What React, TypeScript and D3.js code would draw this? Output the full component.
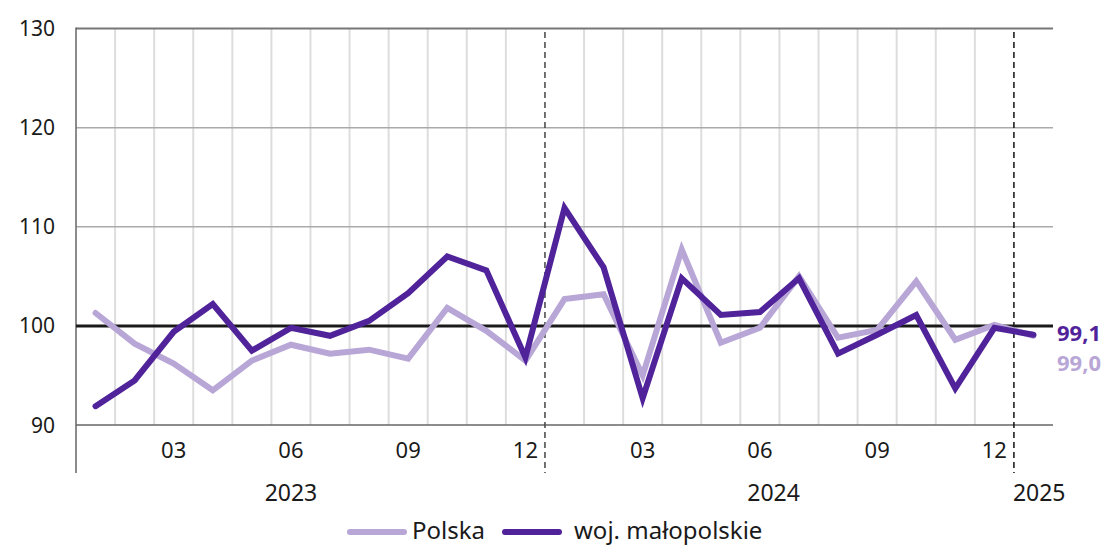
import React from 'react';
import * as d3 from 'd3';

// months 2023-01 .. 2025-01
const months = [
  '2023-01', '2023-02', '2023-03', '2023-04', '2023-05', '2023-06', '2023-07', '2023-08', '2023-09', '2023-10', '2023-11', '2023-12',
  '2024-01', '2024-02', '2024-03', '2024-04', '2024-05', '2024-06', '2024-07', '2024-08', '2024-09', '2024-10', '2024-11', '2024-12',
  '2025-01',
];
const polska = [101.3, 98.2, 96.2, 93.5, 96.5, 98.1, 97.2, 97.6, 96.7, 101.8, 99.5, 96.5,
  102.7, 103.2, 95.0, 107.7, 98.3, 99.8, 105.0, 98.8, 99.6, 104.5, 98.6, 100.1, 99.0];
const malopolskie = [91.9, 94.5, 99.4, 102.2, 97.5, 99.8, 99.0, 100.5, 103.3, 107.0, 105.6, 96.8,
  111.9, 105.9, 92.7, 104.8, 101.1, 101.4, 104.8, 97.2, 99.1, 101.1, 93.7, 99.8, 99.1];
const yTicks = [90, 100, 110, 120, 130];
const monthTicks = ['03', '06', '09', '12'];
const yearLabels = [
  { year: '2023', at: 5.5, anchor: 'middle' },
  { year: '2024', at: 17.85, anchor: 'middle' },
  { year: '2025', at: 24, anchor: 'start' },
];
const endLabels = ['99,1', '99,0'];

const LIGHT = '#b8a6d7';
const DARK = '#50239a';
const FONT = '"Noto Sans", "Open Sans", sans-serif';

export default function App() {
  const width = 1103;
  const height = 546;
  const left = 76;
  const right = 1053;
  const top = 28.5;
  const bottom = 425;

  const x = d3.scaleBand<string>().domain(months).range([left, right]).padding(0);
  const bw = x.bandwidth();
  const cx = (m: string) => (x(m) as number) + bw / 2;
  const y = d3.scaleLinear().domain([90, 130]).range([bottom, top]);

  const line = d3.line<number>()
    .x((_, i) => cx(months[i]))
    .y(d => y(d));

  const boundaries = d3.range(1, months.length).filter(i => i !== 12 && i !== 24);
  const dashed = [12, 24];

  return (
    <svg width={width} height={height} style={{ position: 'absolute', left: 0, top: 0 }} fontFamily={FONT}>
      {/* vertical grid */}
      {boundaries.map(i => (
        <line key={'v' + i} x1={left + i * bw} x2={left + i * bw} y1={top} y2={bottom}
          stroke="#dddddd" strokeWidth={2} />
      ))}
      {/* horizontal grid */}
      {yTicks.filter(t => t !== 90 && t !== 130 && t !== 100).map(t => (
        <line key={'h' + t} x1={left} x2={right} y1={y(t)} y2={y(t)} stroke="#aaaaaa" strokeWidth={1.5} />
      ))}
      <line x1={left} x2={right} y1={y(130)} y2={y(130)} stroke="#777777" strokeWidth={2} />
      <line x1={left} x2={right} y1={y(90)} y2={y(90)} stroke="#666666" strokeWidth={1.5} />
      <line x1={left} x2={left} y1={top - 1} y2={473} stroke="#666666" strokeWidth={1.5} />

      {/* year separators */}
      {dashed.map(i => (
        <line key={'d' + i} x1={left + i * bw} x2={left + i * bw} y1={32} y2={473}
          stroke={i === 12 ? '#444444' : '#111111'} strokeWidth={1.5} strokeDasharray="6,4" />
      ))}

      {/* y tick labels */}
      {yTicks.map(t => (
        <text key={'yl' + t} x={55} y={y(t)} dy="0.36em" textAnchor="end" fontSize={21} fill="#1a1a1a">{t}</text>
      ))}

      {/* month labels */}
      {months.filter(m => monthTicks.includes(m.slice(5))).map(m => (
        <text key={'m' + m} x={cx(m)} y={450} dy="0.36em" textAnchor="middle" fontSize={22} fill="#1a1a1a">{m.slice(5)}</text>
      ))}
      {yearLabels.map(d => (
        <text key={d.year} x={left + d.at * bw + (d.anchor === 'start' ? -1 : 0)} y={493} dy="0.36em"
          textAnchor={d.anchor} fontSize={23} fill="#1a1a1a">{d.year}</text>
      ))}

      {/* reference 100 */}
      <line x1={left} x2={right} y1={y(100)} y2={y(100)} stroke="#1a1a1a" strokeWidth={3} />

      {/* series */}
      <path d={line(polska) || ''} fill="none" stroke={LIGHT} strokeWidth={6} strokeLinejoin="miter" strokeLinecap="round" />
      <path d={line(malopolskie) || ''} fill="none" stroke={DARK} strokeWidth={6} strokeLinejoin="miter" strokeLinecap="round" />

      {/* end labels */}
      <text x={1057} y={333} dy="0.36em" fontSize={22} fontWeight={700} fill={DARK}>{endLabels[0]}</text>
      <text x={1057} y={363} dy="0.36em" fontSize={22} fontWeight={700} fill={LIGHT}>{endLabels[1]}</text>

      {/* legend */}
      <line x1={350} x2={404} y1={532} y2={532} stroke={LIGHT} strokeWidth={6} strokeLinecap="round" />
      <text x={412} y={531} dy="0.34em" fontSize={24} fill="#1a1a1a">Polska</text>
      <line x1={505} x2={559} y1={532} y2={532} stroke={DARK} strokeWidth={6} strokeLinecap="round" />
      <text x={574} y={531} dy="0.34em" fontSize={24} fill="#1a1a1a">woj. małopolskie</text>
    </svg>
  );
}
